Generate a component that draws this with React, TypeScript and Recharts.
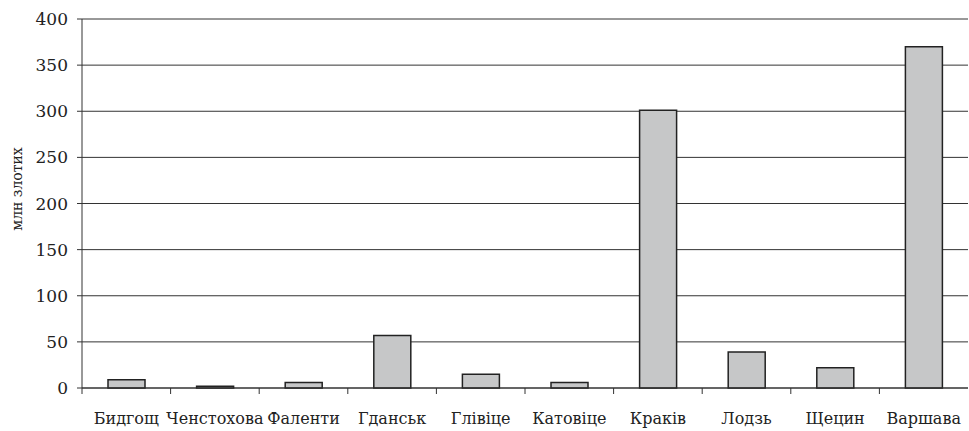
import React from "react"
import { BarChart, Bar, XAxis, YAxis, CartesianGrid } from "recharts"

// cities and values (млн злотих)
const cities = ["Бидгощ", "Ченстохова", "Фаленти", "Гданськ", "Глівіце", "Катовіце", "Краків", "Лодзь", "Щецин", "Варшава"]
const amounts = [9, 2, 6, 57, 15, 6, 301, 39, 22, 370]
const yTicks = [0, 50, 100, 150, 200, 250, 300, 350, 400]

const chartData = cities.map((city, i) => ({ city, amount: amounts[i] }))

const FONT = "'DejaVu Serif', serif"

const CityTick = (props: any) => {
  const { x, y, payload } = props
  const half = payload?.offset ?? 44.3
  return (
    <g>
      <line x1={x - half} y1={y} x2={x - half} y2={y + 6} stroke="#333" strokeWidth={1} />
      <text x={x} y={y + 36} textAnchor="middle" style={{ fontSize: 16, fontFamily: FONT }} fill="#222">
        {payload.value}
      </text>
    </g>
  )
}

const ValueTick = (props: any) => {
  const { x, y, payload } = props
  return (
    <text x={x} y={y + 6} textAnchor="end" style={{ fontSize: 17, fontFamily: FONT }} fill="#222">
      {payload.value}
    </text>
  )
}

const AxisTitle = () => (
  <text
    x={0}
    y={0}
    transform="translate(22, 189) rotate(-90)"
    textAnchor="middle"
    style={{ fontSize: 14, fontFamily: FONT }}
    fill="#222"
  >
    млн злотих
  </text>
)

export default function App() {
  return (
    <div style={{ position: "absolute", left: 0, top: 0, background: "#fff" }}>
      <BarChart width={969} height={431} data={chartData} margin={{ top: 19, right: 1, left: 0, bottom: 0 }}>
        <CartesianGrid vertical={false} stroke="#333" strokeWidth={1} />
        <XAxis
          dataKey="city"
          height={43}
          axisLine={{ stroke: "#333" }}
          tickLine={false}
          tickSize={0}
          tickMargin={0}
          interval={0}
          tick={<CityTick />}
        />
        <YAxis
          width={82}
          domain={[0, 400]}
          ticks={yTicks}
          interval={0}
          axisLine={{ stroke: "#333" }}
          tickLine={{ stroke: "#333" }}
          tickSize={5}
          tickMargin={9}
          tick={<ValueTick />}
          label={<AxisTitle />}
        />
        <Bar dataKey="amount" fill="#c6c7c8" stroke="#222" strokeWidth={1.5} barSize={37} isAnimationActive={false} />
      </BarChart>
    </div>
  )
}
